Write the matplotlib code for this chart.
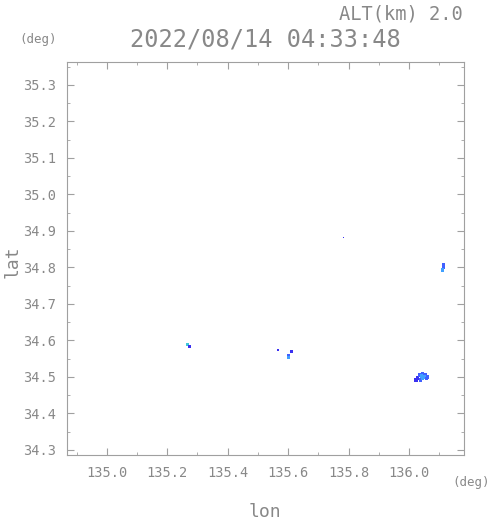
import matplotlib
matplotlib.use('Agg')
import matplotlib.pyplot as plt
from matplotlib.ticker import MultipleLocator, FormatStrFormatter

# echo cells: lon, lat, colour class, cell size
lon = [136.022, 136.029, 136.039, 136.035, 136.045, 136.055, 136.062, 136.045, 136.052, 136.042, 136.058, 136.025,
       136.115, 136.115, 136.112,
       135.268, 135.274,
       135.566, 135.610, 135.601, 135.601,
       135.784]
lat = [34.492, 34.497, 34.492, 34.505, 34.508, 34.505, 34.500, 34.497, 34.500, 34.502, 34.496, 34.490,
       34.808, 34.800, 34.793,
       34.588, 34.584,
       34.574, 34.570, 34.558, 34.553,
       34.881]
level = [0, 0, 1, 1, 1, 1, 1, 2, 2, 2, 1, 0,
         1, 1, 2,
         3, 0,
         0, 0, 1, 2,
         0]
cell = [6, 6, 6, 6, 6, 6, 6, 6, 6, 6, 6, 6,
        5, 5, 5,
        5, 5,
        1.5, 4, 5, 5,
        0.8]
level_colors = ['#3a30f0', '#4060ff', '#40a0ff', '#40c8d8']

title = '2022/08/14 04:33:48'
alt_text = 'ALT(km) 2.0'

grey = '#888888'
mono = 'DejaVu Sans Mono'

fig = plt.figure(figsize=(4.91, 5.21), dpi=100)
ax = fig.add_axes([0.1358, 0.1267, 0.809, 0.7543])

cols = [level_colors[v] for v in level]
ax.scatter(lon, lat, c=cols, marker='s', s=cell, linewidths=0)

ax.set_xlim(134.867, 136.182)
ax.set_ylim(34.286, 35.363)
ax.xaxis.set_major_locator(MultipleLocator(0.2))
ax.xaxis.set_minor_locator(MultipleLocator(0.1))
ax.yaxis.set_major_locator(MultipleLocator(0.1))
ax.yaxis.set_minor_locator(MultipleLocator(0.05))
ax.xaxis.set_major_formatter(FormatStrFormatter('%.1f'))
ax.yaxis.set_major_formatter(FormatStrFormatter('%.1f'))

ax.tick_params(which='both', direction='in', top=True, right=True, color='#a0a0a0',
               labelcolor=grey, labelsize=9.8)
ax.tick_params(which='major', length=5, pad=8)
ax.tick_params(which='minor', length=2.5)
for lab in ax.get_xticklabels() + ax.get_yticklabels():
    lab.set_family(mono)
for s in ax.spines.values():
    s.set_color('#a0a0a0')
    s.set_linewidth(0.8)

fig.text(0.54, 0.925, title, ha='center', va='center', fontsize=17, color=grey, family=mono)
fig.text(0.943, 0.973, alt_text, ha='right', va='center', fontsize=13.5, color=grey, family=mono)
fig.text(0.04, 0.925, '(deg)', ha='left', va='center', fontsize=9, color=grey, family=mono)
fig.text(0.998, 0.073, '(deg)', ha='right', va='center', fontsize=9, color=grey, family=mono)
fig.text(0.54, 0.017, 'lon', ha='center', va='center', fontsize=13, color=grey, family=mono)
fig.text(0.025, 0.497, 'lat', ha='center', va='center', fontsize=13, color=grey, rotation=90, family=mono)

fig.savefig('out.png', dpi=100)
